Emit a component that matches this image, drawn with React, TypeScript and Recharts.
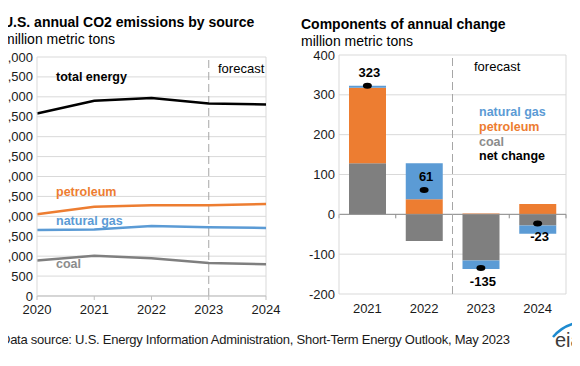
import React from 'react';
import {
    LineChart,
    Line,
    ComposedChart,
    Bar,
    XAxis,
    YAxis,
    CartesianGrid,
    ReferenceLine,
    LabelList
} from 'recharts';

// left panel: annual emissions by source (million metric tons)
const years = ['2020', '2021', '2022', '2023', '2024'];
const totalEnergy = [4580, 4900, 4970, 4830, 4810];
const petroleum = [2050, 2240, 2280, 2280, 2310];
const naturalGas = [1655, 1670, 1755, 1725, 1710];
const coal = [890, 1010, 950, 830, 800];
const levelTicks = [0, 500, 1000, 1500, 2000, 2500, 3000, 3500, 4000, 4500, 5000, 5500, 6000];

// right panel: components of annual change
const changeYears = ['2021', '2022', '2023', '2024'];
const coalChange = [128, -67, -116, -28];
const petroleumChange = [190, 38, 2, 26];
const gasChange = [5, 90, -21, -21];
const netChange = [323, 61, -135, -23];
const changeTicks = [-200, -100, 0, 100, 200, 300, 400];

const levelData = years.map((year, i) => ({
    year,
    total: totalEnergy[i],
    petroleum: petroleum[i],
    gas: naturalGas[i],
    coal: coal[i],
}));

const changeData = changeYears.map((year, i) => ({
    year,
    coal: coalChange[i],
    petroleum: petroleumChange[i],
    gas: gasChange[i],
    net: netChange[i],
}));

const FONT = '"Liberation Sans", Arial, sans-serif';
const ORANGE = '#ED7D31';
const BLUE = '#5B9BD5';
const GRAY = '#7F7F7F';
const GRID = '#D9D9D9';
const tickStyle = { fontSize: 13, fill: '#1a1a1a', fontFamily: FONT };

// y tick with a small horizontal nudge toward the plot
const makeYTick = (shift: number) => (props: any) => {
    const { x, y, payload } = props;
    return (
        <text
            x={x + shift}
            y={y}
            dy={4.5}
            textAnchor="end"
            fontSize={13}
            fontFamily={FONT}
            fill="#1a1a1a"
        >
            {Number(payload.value).toLocaleString('en-US')}
        </text>
    );
};

const NetDot = (props: any) => {
    const { cx, cy, index } = props;
    if (cx == null || cy == null) return <g key={index} />;
    return <ellipse key={index} cx={cx} cy={cy} rx={4.5} ry={3} fill="#000" />;
};

const NetLabel = (props: any) => {
    const { x, y, value } = props;
    const up = value >= 0;
    return (
        <text
            x={x + 2}
            y={up ? y - 9 : y + 18}
            textAnchor="middle"
            fontSize={13}
            fontWeight="bold"
            fontFamily={FONT}
            fill="#000"
        >
            {value}
        </text>
    );
};

function LevelsChart() {
    return (
        <LineChart
            width={290}
            height={366}
            data={levelData}
            margin={{ top: 57, right: 24, bottom: 40, left: 0 }}
        >
            <CartesianGrid vertical={false} stroke={GRID} />
            <XAxis
                dataKey="year"
                height={30}
                tick={tickStyle}
                tickSize={4}
                tickMargin={5}
                stroke="#BFBFBF"
            />
            <YAxis
                width={37}
                domain={[0, 6000]}
                ticks={levelTicks}
                interval={0}
                tick={makeYTick(4)}
                tickLine={false}
                stroke={GRID}
            />
            <ReferenceLine x="2024" stroke={GRID} />
            <ReferenceLine x="2023" stroke="#A6A6A6" strokeDasharray="8 4" />
            <Line dataKey="total" stroke="#000" strokeWidth={2.5} dot={false} isAnimationActive={false} />
            <Line dataKey="petroleum" stroke={ORANGE} strokeWidth={2.5} dot={false} isAnimationActive={false} />
            <Line dataKey="gas" stroke={BLUE} strokeWidth={2.5} dot={false} isAnimationActive={false} />
            <Line dataKey="coal" stroke={GRAY} strokeWidth={2.5} dot={false} isAnimationActive={false} />
        </LineChart>
    );
}

function ChangeChart() {
    const edges: Array<[string, 'start' | 'end']> = [
        ['2021', 'start'],
        ['2022', 'start'],
        ['2023', 'start'],
        ['2024', 'start'],
        ['2024', 'end'],
    ];
    return (
        <ComposedChart
            width={290}
            height={366}
            data={changeData}
            stackOffset="sign"
            margin={{ top: 55, right: 14, bottom: 42, left: 0 }}
        >
            <CartesianGrid vertical={false} stroke={GRID} />
            <XAxis
                dataKey="year"
                height={30}
                tick={tickStyle}
                axisLine={false}
                tickLine={false}
                tickSize={4}
                tickMargin={6}
            />
            <YAxis
                width={49}
                domain={[-200, 400]}
                ticks={changeTicks}
                interval={0}
                tick={makeYTick(4)}
                tickLine={false}
                stroke={GRID}
            />
            <ReferenceLine x="2024" position="end" stroke={GRID} />
            <Bar dataKey="coal" stackId="s" fill={GRAY} barSize={37} isAnimationActive={false} />
            <Bar dataKey="petroleum" stackId="s" fill={ORANGE} barSize={37} isAnimationActive={false} />
            <Bar dataKey="gas" stackId="s" fill={BLUE} barSize={37} isAnimationActive={false} />
            <ReferenceLine y={0} stroke="#8C8C8C" />
            {edges.map(([yr, pos], i) => (
                <ReferenceLine
                    key={i}
                    position={pos}
                    segment={[{ x: yr, y: 0 }, { x: yr, y: -10 }]}
                    stroke="#8C8C8C"
                />
            ))}
            <ReferenceLine x="2023" position="start" stroke="#A6A6A6" strokeDasharray="8 4" />
            <Line
                dataKey="net"
                stroke="none"
                strokeWidth={0}
                dot={NetDot}
                activeDot={false}
                isAnimationActive={false}
            >
                <LabelList dataKey="net" content={NetLabel} />
            </Line>
        </ComposedChart>
    );
}

export default function App() {
    return (
        <div
            style={{
                position: 'relative',
                width: 580,
                height: 366,
                margin: -8,
                overflow: 'hidden',
                background: '#fff',
                fontFamily: FONT,
            }}
        >
            <div style={{ position: 'absolute', left: 0, top: 0 }}>
                <LevelsChart />
            </div>
            <div style={{ position: 'absolute', left: 290, top: 0 }}>
                <ChangeChart />
            </div>
            <svg
                width={580}
                height={366}
                style={{ position: 'absolute', left: 0, top: 0, pointerEvents: 'none' }}
                fontFamily={FONT}
            >
                <text x={3} y={27} fontSize={14} fontWeight="bold" fill="#000">U.S. annual CO2 emissions by source</text>
                <text x={3} y={44} fontSize={14} fill="#000">million metric tons</text>
                <text x={56} y={81} fontSize={12.5} fontWeight="bold" fill="#000">total energy</text>
                <text x={218} y={73} fontSize={13} fill="#000">forecast</text>
                <text x={56} y={196} fontSize={12.5} fontWeight="bold" fill={ORANGE}>petroleum</text>
                <text x={56} y={225} fontSize={12.5} fontWeight="bold" fill={BLUE}>natural gas</text>
                <text x={56} y={268} fontSize={12.5} fontWeight="bold" fill="#8C8C8C">coal</text>

                <text x={301} y={29} fontSize={14} fontWeight="bold" fill="#000">Components of annual change</text>
                <text x={301} y={45.5} fontSize={14} fill="#000">million metric tons</text>
                <text x={474} y={70.5} fontSize={13} fill="#000">forecast</text>
                <text x={479} y={116} fontSize={12.5} fontWeight="bold" fill={BLUE}>natural gas</text>
                <text x={479} y={130.5} fontSize={12.5} fontWeight="bold" fill={ORANGE}>petroleum</text>
                <text x={479} y={145.5} fontSize={12.5} fontWeight="bold" fill="#8C8C8C">coal</text>
                <text x={479} y={159.5} fontSize={12.5} fontWeight="bold" fill="#000">net change</text>

                <text x={1} y={344} fontSize={13} fill="#1a1a1a" textLength={509} lengthAdjust="spacing">
                    Data source: U.S. Energy Information Administration, Short-Term Energy Outlook, May 2023
                </text>
                <path d="M 553 337 Q 565 323 584 322" stroke="#1E8BD0" strokeWidth={2.5} fill="none" />
                <text x={555} y={347} fontSize={20} fill="#3a3a3a">eia</text>
            </svg>
        </div>
    );
}
